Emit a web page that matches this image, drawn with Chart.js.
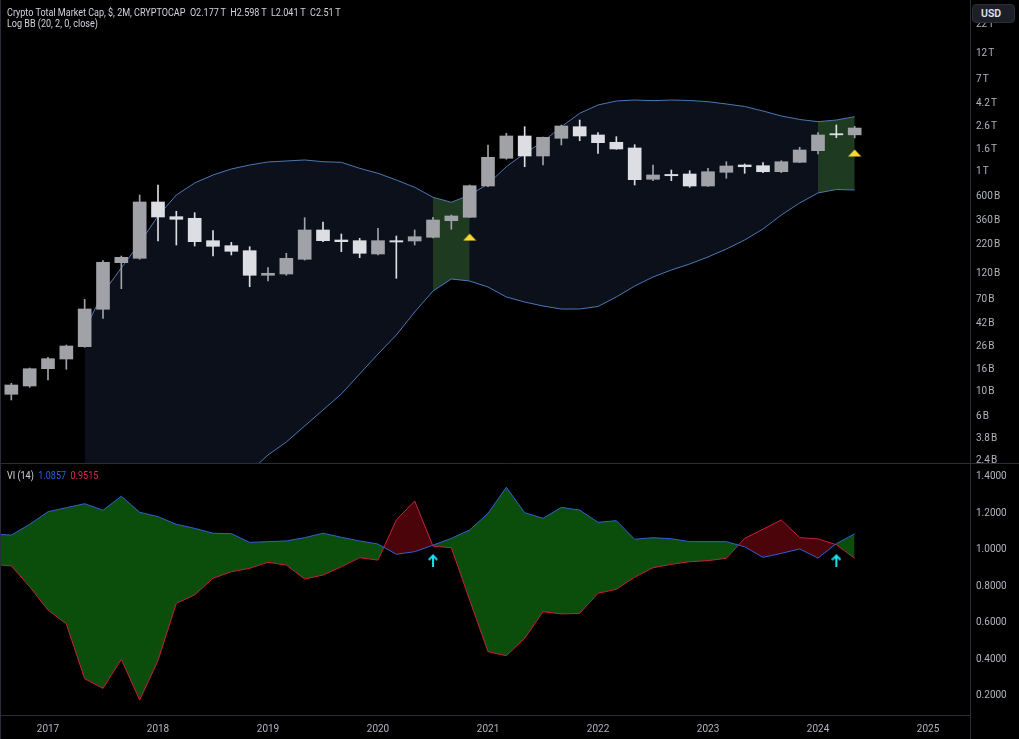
<!DOCTYPE html>
<html><head><meta charset="utf-8">
<script src="https://cdn.jsdelivr.net/npm/chart.js@4.4.1/dist/chart.umd.min.js"></script>
<style>
html,body{margin:0;padding:0;background:#000;width:1019px;height:739px;overflow:hidden;font-family:Roboto,"Noto Sans",sans-serif;}
canvas{position:absolute;left:0;}
#top{top:0;}
#bot{top:463px;}
.hdr{position:absolute;left:7px;color:#d1d4dc;font-size:10.5px;white-space:pre;line-height:13px;transform:scaleX(0.86);transform-origin:0 0;}
#usd{position:absolute;left:972px;top:4px;width:43px;height:19px;box-sizing:border-box;border:1px solid #2a2e39;border-radius:4px;background:#1c1f27;color:#e0e3eb;font-size:10.5px;font-weight:600;line-height:17px;padding-left:8px;}
</style></head><body>
<canvas id="top" width="1019" height="463"></canvas>
<canvas id="bot" width="1019" height="276"></canvas>
<div class="hdr" style="top:6px">Crypto Total Market Cap, $, 2M, CRYPTOCAP  O2.177&thinsp;T  H2.598&thinsp;T  L2.041&thinsp;T  C2.51&thinsp;T</div>
<div class="hdr" style="top:17px">Log BB (20, 2, 0, close)</div>
<div class="hdr" style="top:469px">VI (14)  <span style="color:#2f5fe8">1.0857</span>  <span style="color:#e0284f">0.9515</span></div>
<div id="usd">USD</div>
<script>
// ---- data (values in billions USD) ----
const months = ['2016-07','2016-09','2016-11','2017-01','2017-03','2017-05','2017-07','2017-09','2017-11','2018-01','2018-03','2018-05','2018-07','2018-09','2018-11','2019-01','2019-03','2019-05','2019-07','2019-09','2019-11','2020-01','2020-03','2020-05','2020-07','2020-09','2020-11','2021-01','2021-03','2021-05','2021-07','2021-09','2021-11','2022-01','2022-03','2022-05','2022-07','2022-09','2022-11','2023-01','2023-03','2023-05','2023-07','2023-09','2023-11','2024-01','2024-03','2024-05'];
const open  = [null,9.53,11.34,16.28,19.95,25.81,56.48,149.8,164.2,533.8,392.4,379.4,237.4,213.8,192.6,115.1,118.2,160.8,297.0,240.9,237.4,179.7,237.4,235.9,254.9,360.9,387.5,745.9,1332,2125,1398,2025,2581,2170,1862,1653,858.3,950,959,745.9,993.8,1158,1141,1006,1225,1562,2230,2177];
const high  = [null,12.0,16.52,20.68,26.75,69.6,156.2,172.3,618,761.6,439.3,426.6,292.7,229.6,209.4,134.9,182.4,384.2,351.2,273.2,249.6,307.7,261.9,297.0,387.5,406.6,761.6,1760,2248,2581,2080,2675,2969,2277,2094,1771,1158,1043,1027,1080,1240,1182,1215,1267,1677,2277,2675,2598];
const low   = [null,8.46,11.03,12.86,16.08,25.5,46.77,86.96,160.8,235.9,216.9,212.4,172.3,176.0,90.6,102.1,115.1,158,232.5,188.6,166.3,176.0,108.1,216.9,252,301.4,385,735.2,1305,1117,1158,1760,1925,1479,1608,761.6,833.5,833.5,726,740,876.4,973.2,985.4,985.4,1215,1457,2050,2041];
const close = [null,11.58,16.28,20.08,26.19,56.84,151.1,167.7,533.8,389.9,371.5,232.5,211.1,190.2,115.1,120.0,164.2,297.0,237.4,232.5,182.4,237.4,231.0,258.1,366.2,398.1,750.7,1360,2125,1398,2068,2620,2125,1847,1619,851.1,939.2,925,745.9,1006,1134,1117,1006,1240,1585,2170,2177,2510];
const bbUpper = [null,null,null,null,null,36.6,79.4,134.1,226.2,398.1,618.0,794.3,939.2,1065,1158,1233,1259,1286,1240,1225,1080,973,845.9,726,588.8,530.5,618.0,778,1117,1479,1886,2581,3417,4066,4421,4513,4449,4513,4467,4356,4151,3940,3585,3229,3001,2866,2969,3182];
const bbLower = [null,null,null,null,null,0.33,0.382,0.451,0.534,0.658,0.811,1.0,1.233,1.52,1.874,2.675,3.511,4.909,6.862,9.59,14.58,22.15,32.97,53.38,82.8,106.5,102.1,90.1,73.1,65.8,60.5,56.8,56.8,59.9,73.1,91.9,111.0,128.6,145.8,168.8,199.5,240.9,303.3,406.6,522.8,644.6,693.4,686.2];
const bbZoneMonths = ['2020-07','2020-09','2020-11','2024-01','2024-03','2024-05'];
const bbSignalMonths = ['2020-11','2024-05'];
const bbSignalValues = [256, 1490];
const viPlus  = [1.085,1.079,1.138,1.207,1.229,1.251,1.215,1.292,1.204,1.180,1.138,1.116,1.089,1.087,1.039,1.043,1.047,1.065,1.089,1.067,1.047,1.030,0.974,0.988,1.024,1.061,1.107,1.198,1.341,1.202,1.171,1.231,1.216,1.149,1.158,1.056,1.065,1.059,1.043,1.043,1.043,1.015,0.957,0.979,1.003,0.953,1.032,1.0857];
const viMinus = [0.918,0.910,0.796,0.668,0.592,0.292,0.239,0.398,0.175,0.391,0.705,0.751,0.842,0.878,0.897,0.930,0.915,0.838,0.860,0.905,0.955,0.942,1.162,1.266,1.018,1.010,0.723,0.440,0.418,0.513,0.659,0.647,0.650,0.760,0.782,0.848,0.900,0.919,0.933,0.939,0.952,1.061,1.111,1.162,1.065,1.058,1.026,0.9515];
const viSignalMonths = ['2020-07','2024-03'];
const viSignalValues = [0.942, 0.942];
const priceTicks = [2.4,3.8,6,10,16,26,42,70,120,220,360,600,1000,1600,2600,4200,7000,12000,22000];
const priceTickLabels = ['2.4\u200AB','3.8\u200AB','6\u200AB','10\u200AB','16\u200AB','26\u200AB','42\u200AB','70\u200AB','120\u200AB','220\u200AB','360\u200AB','600\u200AB','1\u200AT','1.6\u200AT','2.6\u200AT','4.2\u200AT','7\u200AT','12\u200AT','22\u200AT'];
const viTicks = [0.2,0.4,0.6,0.8,1.0,1.2,1.4];
const yearLabels = ['2017','2018','2019','2020','2021','2022','2023','2024','2025'];

// ---- view settings ----
const X_MIN = 0.382, X_MAX = 53.29;
const P_MIN = 2.262, P_MAX = 36610;
const V_MIN = 0.0932, V_MAX = 1.474;
const AXIS_W = 49;
const C_UP = '#a0a2a8', C_DN = '#dcdee4';
const C_BAND = '#4a78b4', C_BANDFILL = '#0b101b', C_ZONE = '#1e3b22';
const LINE_C = '#2a2e39', TXT = '#b2b5be';

const idx = m => months.indexOf(m);
const jan2017 = idx('2017-01');
const yearPos = yearLabels.map(y => jan2017 + 6*(+y - 2017));

function pts(arr){ return arr.map((v,k)=>({x:k,y:v})); }
const zoneIdx = bbZoneMonths.map(idx);
const zoneU = bbUpper.map((v,k)=>({x:k,y: zoneIdx.includes(k)? v : null}));
const zoneL = bbLower.map((v,k)=>({x:k,y: zoneIdx.includes(k)? v : null}));

const upB=[],dnB=[],upW=[],dnW=[];
months.forEach((m,k)=>{
  if(open[k]==null) return;
  const up = close[k] >= open[k];
  (up?upB:dnB).push({x:k,y:[open[k],close[k]]});
  (up?upW:dnW).push({x:k,y:[low[k],high[k]]});
});

function triImg(){const c=document.createElement('canvas');c.width=14;c.height=8;const g=c.getContext('2d');g.fillStyle='#fdd835';g.beginPath();g.moveTo(7,0.5);g.lineTo(13.5,7.5);g.lineTo(0.5,7.5);g.closePath();g.fill();return c;}
function arrowImg(){const c=document.createElement('canvas');c.width=10;c.height=13;const g=c.getContext('2d');g.strokeStyle='#19e3f5';g.lineWidth=2;g.lineCap='square';g.beginPath();g.moveTo(5,2);g.lineTo(5,12);g.moveTo(1.5,5.5);g.lineTo(5,2);g.lineTo(8.5,5.5);g.stroke();return c;}

function fitY(s){ s.width = AXIS_W; s.paddingTop = 0; s.paddingBottom = 0; }
function fitX(s){ s.height = 24; s.paddingLeft = 0; s.paddingRight = 0; }

Chart.defaults.font.family = 'Roboto, "Noto Sans", sans-serif';
Chart.defaults.animation = false;

const line = (data, extra) => Object.assign({type:'line', data, pointRadius:0, borderWidth:0, tension:0, spanGaps:false, fill:false}, extra);

const leftEdge = {id:'leftEdge', afterDraw(c){
  const g=c.ctx; g.save(); g.strokeStyle=LINE_C; g.lineWidth=1;
  g.beginPath(); g.moveTo(0.5,0); g.lineTo(0.5,c.height); g.stroke(); g.restore();
}};

new Chart(document.getElementById('top'), {
  type:'bar',
  data:{datasets:[
    line(pts(bbUpper), {fill:{target:1}, backgroundColor:C_BANDFILL, order:20}),
    line(pts(bbLower), {order:20}),
    line(zoneU, {fill:{target:3}, backgroundColor:C_ZONE, order:19}),
    line(zoneL, {order:19}),
    line(pts(bbUpper), {borderColor:C_BAND, borderWidth:1, order:18}),
    line(pts(bbLower), {borderColor:C_BAND, borderWidth:1, order:18}),
    {type:'bar', data:upW, backgroundColor:C_UP, barThickness:1, grouped:false, order:10},
    {type:'bar', data:dnW, backgroundColor:C_DN, barThickness:1, grouped:false, order:10},
    {type:'bar', data:upB, backgroundColor:C_UP, barThickness:13, minBarLength:1, grouped:false, order:9},
    {type:'bar', data:dnB, backgroundColor:C_DN, barThickness:13, minBarLength:1, grouped:false, order:9},
    {type:'line', data:bbSignalMonths.map((m,i)=>({x:idx(m),y:bbSignalValues[i]})), showLine:false, pointStyle:triImg(), pointRadius:6, order:1}
  ]},
  options:{
    responsive:false, devicePixelRatio:1, animation:false,
    layout:{padding:0, autoPadding:false},
    plugins:{legend:{display:false}, tooltip:{enabled:false}},
    scales:{
      x:{type:'linear', min:X_MIN, max:X_MAX, offset:false, display:false},
      y:{type:'logarithmic', position:'right', min:P_MIN, max:P_MAX,
         afterBuildTicks:s=>{s.ticks = priceTicks.map(v=>({value:v}));},
         afterFit:fitY,
         grid:{display:false, drawTicks:false},
         border:{display:true, color:LINE_C},
         ticks:{color:TXT, font:{size:10}, padding:6, autoSkip:false,
                callback:(v)=>{const i=priceTicks.indexOf(v); return i>=0?priceTickLabels[i]:'';}}}
    }
  },
  plugins:[leftEdge]
});

const sepPlugin = {id:'sep', afterDraw(c){
  const g=c.ctx; g.save(); g.strokeStyle=LINE_C; g.lineWidth=1;
  g.beginPath(); g.moveTo(0,0.5); g.lineTo(c.width,0.5);
  g.moveTo(c.chartArea.right+0.5,c.chartArea.bottom); g.lineTo(c.chartArea.right+0.5,c.height);
  g.stroke(); g.restore();
}};

new Chart(document.getElementById('bot'), {
  type:'line',
  data:{datasets:[
    line(pts(viPlus), {borderColor:'#2f5fd6', borderWidth:1, order:2}),
    line(pts(viMinus), {borderColor:'#c9203f', borderWidth:1, order:3}),
    line(pts(viPlus), {fill:{target:1, above:'#0b4e0b', below:'#4b050a'}, order:5}),
    {type:'line', data:viSignalMonths.map((m,i)=>({x:idx(m),y:viSignalValues[i]})), showLine:false, pointStyle:arrowImg(), pointRadius:6, order:0}
  ]},
  options:{
    responsive:false, devicePixelRatio:1, animation:false,
    layout:{padding:0, autoPadding:false},
    plugins:{legend:{display:false}, tooltip:{enabled:false}},
    scales:{
      x:{type:'linear', min:X_MIN, max:X_MAX, offset:false,
         afterBuildTicks:s=>{s.ticks = yearPos.map(v=>({value:v}));},
         afterFit:fitX,
         grid:{display:false, drawTicks:false},
         border:{display:true, color:LINE_C},
         ticks:{color:TXT, font:{size:10}, padding:8, maxRotation:0, autoSkip:false,
                callback:(v)=>{const i=yearPos.indexOf(v); return i>=0?yearLabels[i]:'';}}},
      y:{type:'linear', position:'right', min:V_MIN, max:V_MAX,
         afterBuildTicks:s=>{s.ticks = viTicks.map(v=>({value:v}));},
         afterFit:fitY,
         grid:{display:false, drawTicks:false},
         border:{display:true, color:LINE_C},
         ticks:{color:TXT, font:{size:10}, padding:6, autoSkip:false,
                callback:(v)=>v.toFixed(4)}}
    }
  },
  plugins:[sepPlugin, leftEdge]
});
</script>
</body></html>
